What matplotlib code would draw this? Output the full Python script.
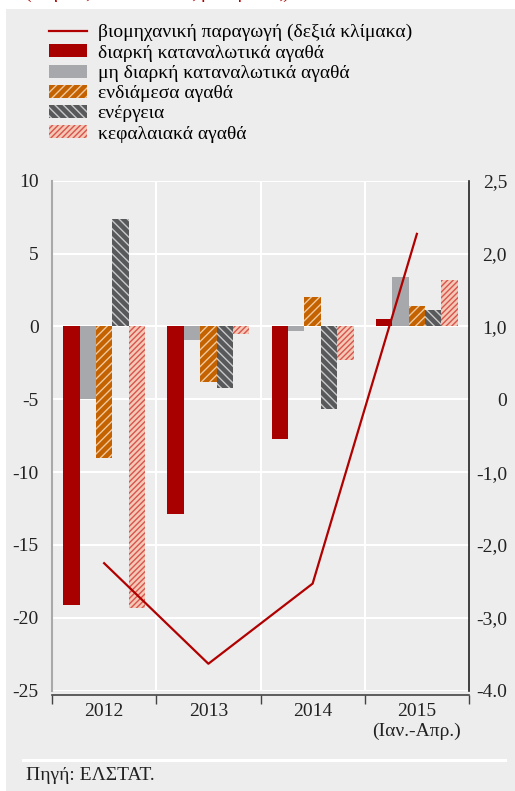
import numpy as np
import matplotlib.pyplot as plt
from matplotlib.patches import Rectangle

plt.rcParams['font.family'] = ['Liberation Serif', 'DejaVu Serif']
plt.rcParams['hatch.linewidth'] = 1.0

# data (left scale: % change; right scale: industrial production)
years = ['2012', '2013', '2014', '2015\n(Ιαν.-Απρ.)']
durable = [-19.1, -12.9, -7.7, 0.5]
nondurable = [-5.0, -0.9, -0.3, 3.4]
intermediate = [-9.0, -3.8, 2.0, 1.4]
energy = [7.4, -4.2, -5.7, 1.1]
capital = [-19.3, -0.5, -2.3, 3.2]
industrial = [-2.25, -3.63, -2.53, 2.27]

left_ticks = [-25, -20, -15, -10, -5, 0, 5, 10]
right_ticks = [-4, -3, -2, -1, 0, 1, 2, 3]
right_labels = ['-4.0', '-3,0', '-2,0', '-1,0', '0', '1,0', '2,0', '2,5']

names = ['διαρκή καταναλωτικά αγαθά', 'μη διαρκή καταναλωτικά αγαθά',
         'ενδιάμεσα αγαθά', 'ενέργεια', 'κεφαλαιακά αγαθά']
line_name = 'βιομηχανική παραγωγή (δεξιά κλίμακα)'

fs = 14
bg = '#ededed'
fig = plt.figure(figsize=(5.15, 7.91), dpi=100, facecolor='white')
fig.patches.append(Rectangle((6 / 515, 0), 1, 1 - 9 / 791, transform=fig.transFigure,
                             facecolor=bg, edgecolor='none', zorder=-10))

# subtitle cut off at the top edge, as in the source image
fig.text(25 / 515, 1.0 + 2.5 / 791, '(ετήσιες εκατοστιαίες μεταβολές)', color='#b00000',
         fontsize=fs, va='baseline')

ax = fig.add_axes([52 / 515, 1 - 690.7 / 791, 417 / 515, (690.7 - 180.7) / 791])
ax.set_facecolor('none')

x = np.arange(len(years))
w = 0.157
styles = [
    dict(color='#a80000', edgecolor='#a80000', hatch=None),
    dict(color='#a7a8ab', edgecolor='#a7a8ab', hatch=None),
    dict(color='#c46200', edgecolor='#f0c9a0', hatch='////'),
    dict(color='#58595b', edgecolor='#c9c9c9', hatch='\\\\\\\\'),
    dict(color='#f3c9b5', edgecolor='#d9534f', hatch='//////'),
]
handles = []
for k, (vals, st) in enumerate(zip([durable, nondurable, intermediate, energy, capital], styles)):
    b = ax.bar(x + (k - 2) * w, vals, w, facecolor=st['color'], edgecolor=st['edgecolor'],
               hatch=st['hatch'], linewidth=0, label=names[k], zorder=3)
    handles.append(b)

ax.set_xlim(-0.5, 3.5)
ax.set_ylim(-25, 10)
ax.set_yticks(left_ticks)
ax.set_yticklabels([str(t) for t in left_ticks])
ax.set_axisbelow(True)
ax.grid(axis='y', color='white', linewidth=1.5, zorder=0)
for b in [0.5, 1.5, 2.5]:
    ax.axvline(b, color='white', linewidth=1.5, zorder=0)
ax.axhline(10, color='white', linewidth=1.5, zorder=0)

ax.set_xticks([-0.5, 0.5, 1.5, 2.5, 3.5])
ax.set_xticklabels([])
ax.set_xticks(x, minor=True)
ax.set_xticklabels(years, minor=True, linespacing=0.95)
ax.tick_params(axis='x', which='major', direction='out', length=6.5, width=1, color='#444444')
ax.tick_params(axis='x', which='minor', length=0, pad=6, labelsize=fs, labelcolor='#222222')
ax.tick_params(axis='y', length=0, pad=9.5, labelsize=fs, labelcolor='#222222')

ax.spines['top'].set_visible(False)
ax.spines['right'].set_visible(False)
ax.spines['left'].set_color('#a9a9a9')
ax.spines['left'].set_linewidth(1.5)
ax.spines['bottom'].set_position(('outward', 3))
ax.spines['bottom'].set_color('#444444')
ax.spines['bottom'].set_linewidth(1.2)

ax2 = ax.twinx()
ax2.set_ylim(-4, 3)
line, = ax2.plot(x, industrial, color='#b00000', linewidth=1.6, label=line_name, zorder=5)
ax2.set_yticks(right_ticks)
ax2.set_yticklabels(right_labels)
ax2.tick_params(axis='y', length=0, pad=27.4, labelsize=fs, labelcolor='#222222')
for t in ax2.get_yticklabels():
    t.set_horizontalalignment('right')
for s in ['top', 'left', 'bottom']:
    ax2.spines[s].set_visible(False)
ax2.spines['right'].set_color('#222222')
ax2.spines['right'].set_linewidth(1.2)

fig.legend([line] + handles, [line_name] + names, loc='upper left',
           bbox_to_anchor=(49 / 515, 1 - 24 / 791), frameon=False, fontsize=fs,
           handlelength=1.95, handleheight=0.65, handletextpad=0.55, labelspacing=0.15,
           borderpad=0, borderaxespad=0)

fig.add_artist(plt.Line2D([23 / 515, 505 / 515], [1 - 760 / 791, 1 - 760 / 791],
                          color='white', linewidth=2.2, transform=fig.transFigure))
fig.text(26 / 515, 1 - 775 / 791, 'Πηγή: ΕΛΣΤΑΤ.', fontsize=fs, va='center', color='#222222')

fig.savefig('out.png', dpi=100, facecolor=fig.get_facecolor())
